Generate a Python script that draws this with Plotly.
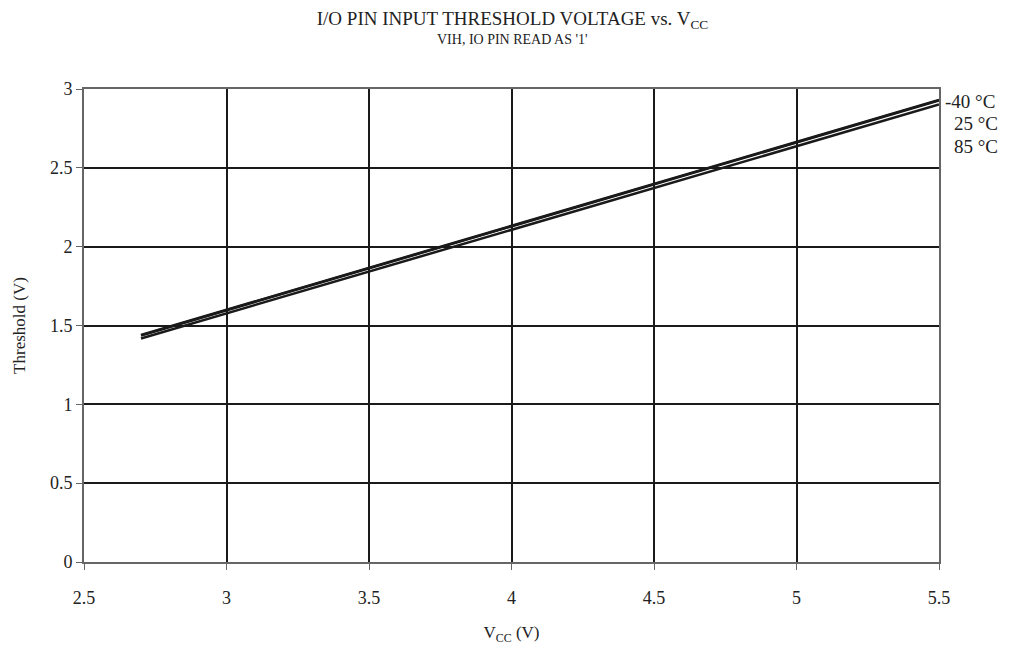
import plotly.graph_objects as go

vcc = [2.7, 3.0, 3.5, 4.0, 4.5, 5.0, 5.5]
t_m40 = [1.440, 1.600, 1.866, 2.132, 2.398, 2.664, 2.930]
t_25 = [1.437, 1.597, 1.863, 2.129, 2.395, 2.661, 2.927]
t_85 = [1.418, 1.577, 1.842, 2.107, 2.372, 2.637, 2.902]
series_names = ["-40 °C", "25 °C", "85 °C"]
x_ticks = [2.5, 3, 3.5, 4, 4.5, 5, 5.5]
y_ticks = [0, 0.5, 1, 1.5, 2, 2.5, 3]

FONT = "Liberation Serif, Times New Roman, serif"

fig = go.Figure()
for name, ys in zip(series_names, [t_m40, t_25, t_85]):
    fig.add_trace(go.Scatter(x=vcc, y=ys, mode="lines", name=name,
                             line=dict(color="#1a1a1a", width=2.5)))

fig.update_layout(
    width=1025, height=650,
    paper_bgcolor="white", plot_bgcolor="white",
    margin=dict(l=84, r=86, t=89, b=88),
    showlegend=False,
    font=dict(family=FONT, color="#222", size=18),
    title=dict(
        text="I/O PIN INPUT THRESHOLD VOLTAGE vs. V<sub>CC</sub>",
        x=0.5, xanchor="center", y=(650 - 18) / 650, yanchor="middle",
        font=dict(family=FONT, size=19, color="#222")),
)
fig.add_annotation(text="VIH, IO PIN READ AS '1'", xref="paper", yref="paper",
                   x=(512 - 84) / 855, xanchor="center", y=(562 - 40) / 473, yanchor="middle",
                   showarrow=False, font=dict(family=FONT, size=14, color="#222"))
fig.update_xaxes(
    range=[2.5, 5.5], tickvals=x_ticks, ticktext=[str(v) for v in x_ticks],
    showgrid=True, gridcolor="#1a1a1a", gridwidth=2,
    showline=True, linecolor="#666", linewidth=2, mirror=True,
    ticks="outside", ticklen=6, tickcolor="#666", tickwidth=1,
    ticklabelstandoff=12,
    zeroline=False,
    title=dict(text="V<sub>CC</sub> (V)", font=dict(family=FONT, size=17), standoff=20),
)
fig.update_yaxes(
    range=[0, 3], tickvals=y_ticks, ticktext=[str(v) for v in y_ticks],
    showgrid=True, gridcolor="#1a1a1a", gridwidth=2,
    showline=True, linecolor="#666", linewidth=2, mirror=True,
    ticks="outside", ticklen=6, tickcolor="#666", tickwidth=1,
    zeroline=False,
    title=dict(text="Threshold (V)", font=dict(family=FONT, size=17), standoff=20),
)

for i, name in enumerate(series_names):
    fig.add_annotation(text=name, xref="paper", yref="paper",
                       x=1.0, xanchor="left", xshift=4 if i == 0 else 13,
                       y=1.0, yanchor="middle", yshift=-12 - 22.5 * i,
                       showarrow=False, font=dict(family=FONT, size=19, color="#222"))

fig.write_html("out.html", config={"displayModeBar": False},
               post_script="document.body.style.margin='0';document.body.style.overflow='hidden';")
